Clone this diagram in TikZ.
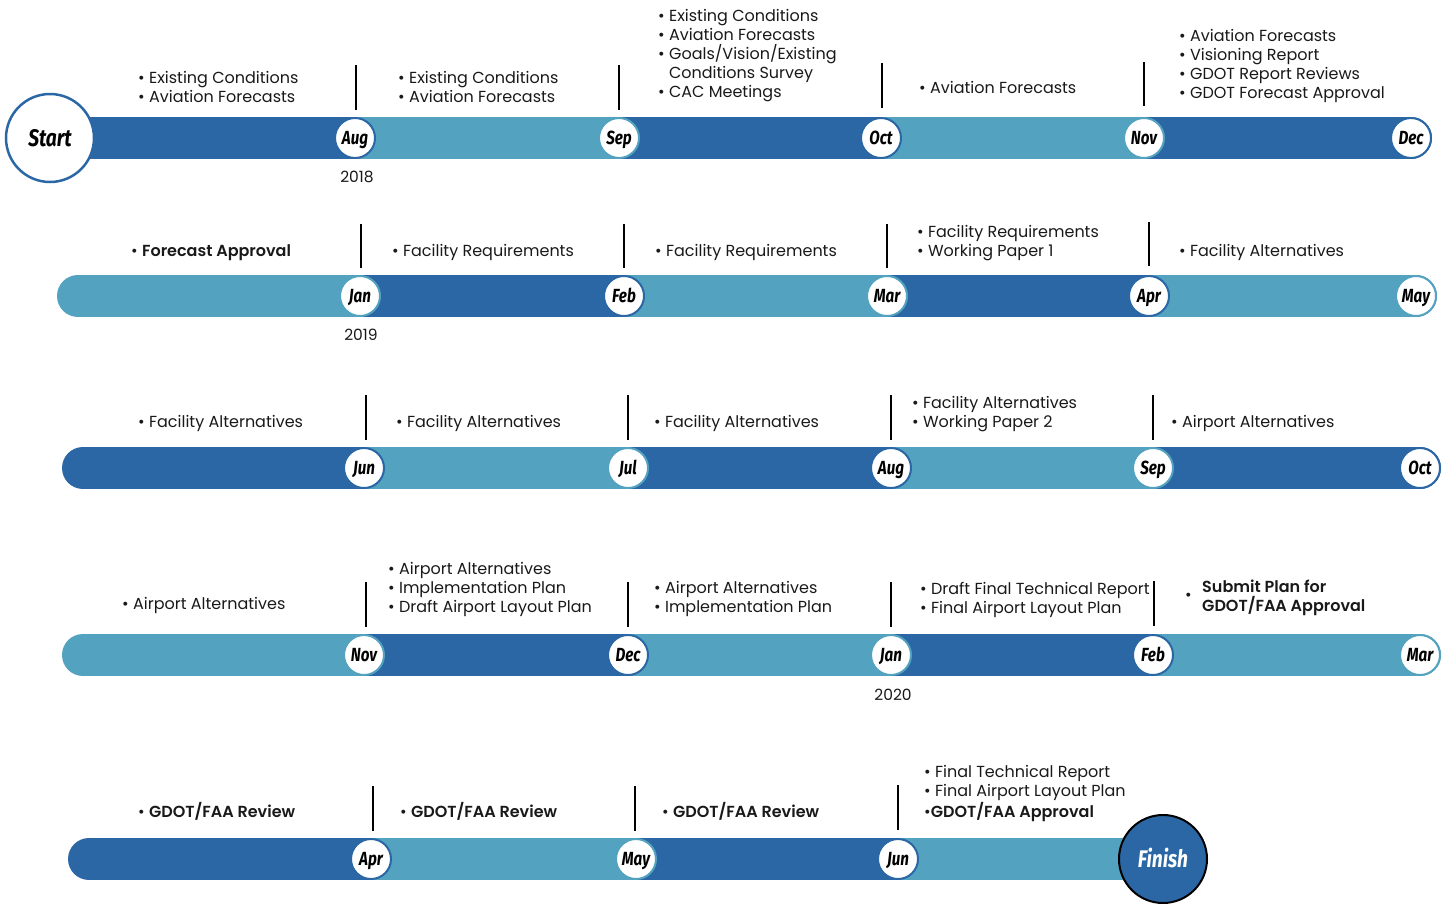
\documentclass[tikz,border=0pt]{standalone}
\usepackage{fontspec}
\setmainfont{Poppins}[BoldFont={Poppins SemiBold}]
\newfontfamily\monthfont[FakeStretch=0.8]{Fira Sans}
\definecolor{cdark}{RGB}{43,103,165}
\definecolor{clight}{RGB}{82,162,192}
\definecolor{ctext}{RGB}{25,25,25}
\tikzset{
  bar/.style={line width=42pt},
  rbar/.style={line width=42pt, line cap=round},
  month/.style={circle, fill=white, minimum size=40pt, inner sep=0pt, line width=2pt,
    text height=13pt, text depth=0pt,
    font=\monthfont\bfseries\itshape\fontsize{19}{19}\selectfont, text=black},
  bigc/.style={circle, minimum size=88pt, inner sep=0pt, text height=16pt, text depth=0pt,
    font=\monthfont\bfseries\itshape\fontsize{24}{24}\selectfont},
  txt/.style={anchor=base west, inner sep=0pt, align=left, text=ctext,
    font=\fontsize{16}{19}\selectfont},
  yr/.style={anchor=base, inner sep=0pt, text=ctext, font=\fontsize{15.5}{18}\selectfont},
  sepline/.style={line width=2pt, black},
}
\newcommand{\bu}{\textbullet\ }
\begin{document}
\begin{tikzpicture}[x=1pt,y=-1pt]
\useasboundingbox (0,0) rectangle (1448,903);
% ---------- Row 1 ----------
\draw[rbar,cdark] (1144,138) -- (1411,138);
\draw[rbar,cdark] (50,138) -- (355,138);
\draw[bar,clight] (355,138) -- (619,138);
\draw[bar,cdark] (619,138) -- (881,138);
\draw[bar,clight] (881,138) -- (1144,138);
\node[bigc, fill=white, draw=cdark, line width=2.5pt] (start) at (50,138) {Start};
\node[month,draw=cdark] (m1) at (355,138) {Aug};
\node[month,draw=clight] (m2) at (619,138) {Sep};
\node[month,draw=cdark] (m3) at (881,138) {Oct};
\node[month,draw=clight] (m4) at (1144,138) {Nov};
\node[month,draw=cdark] (m5) at (1411,138) {Dec};
\draw[sepline] (356,65) -- (356,110);
\draw[sepline] (619,65) -- (619,110);
\draw[sepline] (882,63) -- (882,108);
\draw[sepline] (1144,62) -- (1144,106);
\node[txt] (t1) at (138,102) {\bu Existing Conditions\\\bu Aviation Forecasts};
\node[txt] (t2) at (398,102) {\bu Existing Conditions\\\bu Aviation Forecasts};
\node[txt] (t3) at (658,97) {\bu Existing Conditions\\\bu Aviation Forecasts\\\bu Goals/Vision/Existing\\\hphantom{\bu}Conditions Survey\\\bu CAC Meetings};
\node[txt] (t4) at (919,93) {\bu Aviation Forecasts};
\node[txt] (t5) at (1179,98) {\bu Aviation Forecasts\\\bu Visioning Report\\\bu GDOT Report Reviews\\\bu GDOT Forecast Approval};
\node[yr] (y1) at (357,182) {2018};
% ---------- Row 2 ----------
\draw[rbar,clight] (1149,296) -- (1416,296);
\draw[rbar,clight] (78,296) -- (360,296);
\draw[bar,cdark] (360,296) -- (624,296);
\draw[bar,clight] (624,296) -- (887,296);
\draw[bar,cdark] (887,296) -- (1149,296);
\node[month,draw=clight] (n1) at (360,296) {Jan};
\node[month,draw=cdark] (n2) at (624,296) {Feb};
\node[month,draw=clight] (n3) at (887,296) {Mar};
\node[month,draw=cdark] (n4) at (1149,296) {Apr};
\node[month,draw=clight] (n5) at (1416,296) {May};
\draw[sepline] (361,224) -- (361,268);
\draw[sepline] (624,224) -- (624,268);
\draw[sepline] (887,224) -- (887,268);
\draw[sepline] (1149,222) -- (1149,266);
\node[txt] (u1) at (131,256) {\bu\textbf{Forecast Approval}};
\node[txt] (u2) at (392,256) {\bu Facility Requirements};
\node[txt] (u3) at (655,256) {\bu Facility Requirements};
\node[txt] (u4) at (917,256) {\bu Facility Requirements\\\bu Working Paper 1};
\node[txt] (u5) at (1179,256) {\bu Facility Alternatives};
\node[yr] (y2) at (361,340) {2019};
% ---------- Row 3 ----------
\draw[rbar,cdark] (1153,468) -- (1420,468);
\draw[rbar,cdark] (83,468) -- (364,468);
\draw[bar,clight] (364,468) -- (628,468);
\draw[bar,cdark] (628,468) -- (891,468);
\draw[bar,clight] (891,468) -- (1153,468);
\node[month,draw=cdark] (p1) at (364,468) {Jun};
\node[month,draw=clight] (p2) at (628,468) {Jul};
\node[month,draw=cdark] (p3) at (891,468) {Aug};
\node[month,draw=clight] (p4) at (1153,468) {Sep};
\node[month,draw=cdark] (p5) at (1420,468) {Oct};
\draw[sepline] (366,395) -- (366,440);
\draw[sepline] (628,395) -- (628,440);
\draw[sepline] (891,395) -- (891,440);
\draw[sepline] (1153,395) -- (1153,440);
\node[txt] (v1) at (138,427) {\bu Facility Alternatives};
\node[txt] (v2) at (396,427) {\bu Facility Alternatives};
\node[txt] (v3) at (654,427) {\bu Facility Alternatives};
\node[txt] (v4) at (912,427) {\bu Facility Alternatives\\\bu Working Paper 2};
\node[txt] (v5) at (1171,427) {\bu Airport Alternatives};
% ---------- Row 4 ----------
\draw[rbar,clight] (1153,655) -- (1420,655);
\draw[rbar,clight] (83,655) -- (364,655);
\draw[bar,cdark] (364,655) -- (628,655);
\draw[bar,clight] (628,655) -- (891,655);
\draw[bar,cdark] (891,655) -- (1153,655);
\node[month,draw=clight] (q1) at (364,655) {Nov};
\node[month,draw=cdark] (q2) at (628,655) {Dec};
\node[month,draw=clight] (q3) at (891,655) {Jan};
\node[month,draw=cdark] (q4) at (1153,655) {Feb};
\node[month,draw=clight] (q5) at (1420,655) {Mar};
\draw[sepline] (366,582) -- (366,627);
\draw[sepline] (628,582) -- (628,627);
\draw[sepline] (891,582) -- (891,627);
\draw[sepline] (1154,581) -- (1154,626);
\node[txt] (w1) at (122,609) {\bu Airport Alternatives};
\node[txt] (w2) at (388,612) {\bu Airport Alternatives\\\bu Implementation Plan\\\bu Draft Airport Layout Plan};
\node[txt] (w3) at (654,612) {\bu Airport Alternatives\\\bu Implementation Plan};
\node[txt] (w4) at (920,613) {\bu Draft Final Technical Report\\\bu Final Airport Layout Plan};
\node[txt] (w5b) at (1185,600) {\textbullet};
\node[txt] (w5) at (1202,611) {\textbf{Submit Plan for}\\\textbf{GDOT/FAA Approval}};
\node[yr] (y3) at (893,700) {2020};
% ---------- Row 5 ----------
\draw[rbar,clight] (898,859) -- (1163,859);
\draw[rbar,cdark] (89,859) -- (371,859);
\draw[bar,clight] (371,859) -- (636,859);
\draw[bar,cdark] (636,859) -- (898,859);
\node[month,draw=cdark] (s1) at (371,859) {Apr};
\node[month,draw=clight] (s2) at (636,859) {May};
\node[month,draw=cdark] (s3) at (898,859) {Jun};
\node[bigc, fill=cdark, draw=black, line width=2pt, text=white] (finish) at (1163,859) {Finish};
\draw[sepline] (373,786) -- (373,831);
\draw[sepline] (635,786) -- (635,831);
\draw[sepline] (898,785) -- (898,830);
\node[txt] (x1) at (138,817) {\bu\textbf{GDOT/FAA Review}};
\node[txt] (x2) at (400,817) {\bu\textbf{GDOT/FAA Review}};
\node[txt] (x3) at (662,817) {\bu\textbf{GDOT/FAA Review}};
\node[txt] (x4) at (924,817) {\bu Final Technical Report\\\bu Final Airport Layout Plan\\\textbullet\textbf{GDOT/FAA Approval}};
\end{tikzpicture}
\end{document}
